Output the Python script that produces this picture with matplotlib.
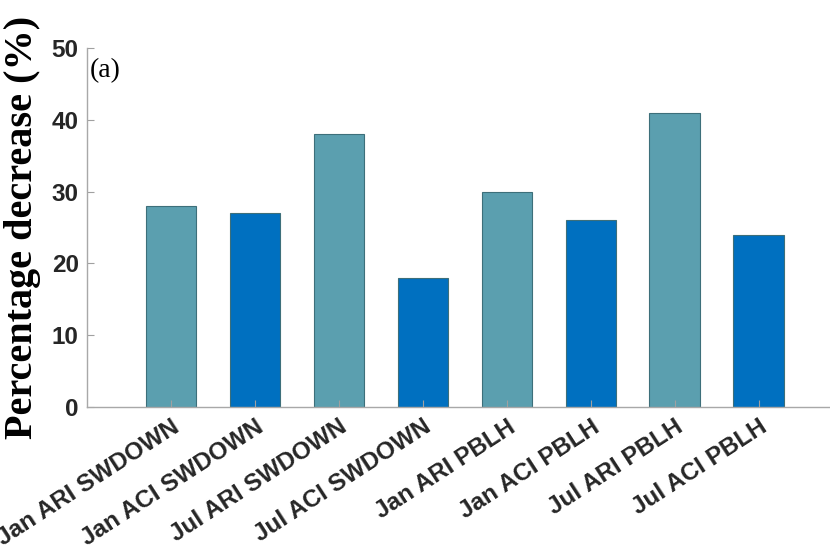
import numpy as np
import matplotlib.pyplot as plt

# Disminución porcentual por caso
categorias = ['Jan ARI SWDOWN', 'Jan ACI SWDOWN', 'Jul ARI SWDOWN', 'Jul ACI SWDOWN',
              'Jan ARI PBLH', 'Jan ACI PBLH', 'Jul ARI PBLH', 'Jul ACI PBLH']
valores = [28, 27, 38, 18, 30, 26, 41, 24]
colores = ['#5B9FAF', '#0070C0'] * 4

fig = plt.figure(figsize=(8.3, 5.52), dpi=100)
ax = fig.add_axes([87 / 830, 1 - 407 / 552, 1 - 87 / 830, 359 / 552])

x = np.arange(1, len(valores) + 1)
ax.bar(x, valores, width=0.6, color=colores, edgecolor='#3d6f7a', linewidth=0.8)

ax.set_xlim(0, 8.85)
ax.set_ylim(0, 50)
ax.set_yticks([0, 10, 20, 30, 40, 50])
ax.set_xticks(x)
ax.set_xticklabels(categorias, rotation=33, ha='right', rotation_mode='anchor',
                   fontfamily='Liberation Sans', fontweight='bold', fontsize=17.5, color='#262626')
for t in ax.get_yticklabels():
    t.set_fontfamily('Liberation Sans')
    t.set_fontweight('bold')
    t.set_fontsize(17.5)
    t.set_color('#262626')

ax.tick_params(direction='in', length=5, color='#a0a0a0', width=0.8)
ax.tick_params(axis='x', pad=6)
ax.tick_params(axis='y', pad=6)
for lado in ['top', 'right']:
    ax.spines[lado].set_visible(False)
for lado in ['left', 'bottom']:
    ax.spines[lado].set_color('#a8a8a8')
    ax.spines[lado].set_linewidth(1.0)

ax.set_ylabel('Percentage decrease (%)', fontfamily='Liberation Serif', fontweight='bold',
              fontsize=29, labelpad=8)
ax.text(0.03, 46.8, '(a)', fontfamily='Liberation Serif', fontsize=20, va='center')

fig.savefig('out.png', dpi=100)
